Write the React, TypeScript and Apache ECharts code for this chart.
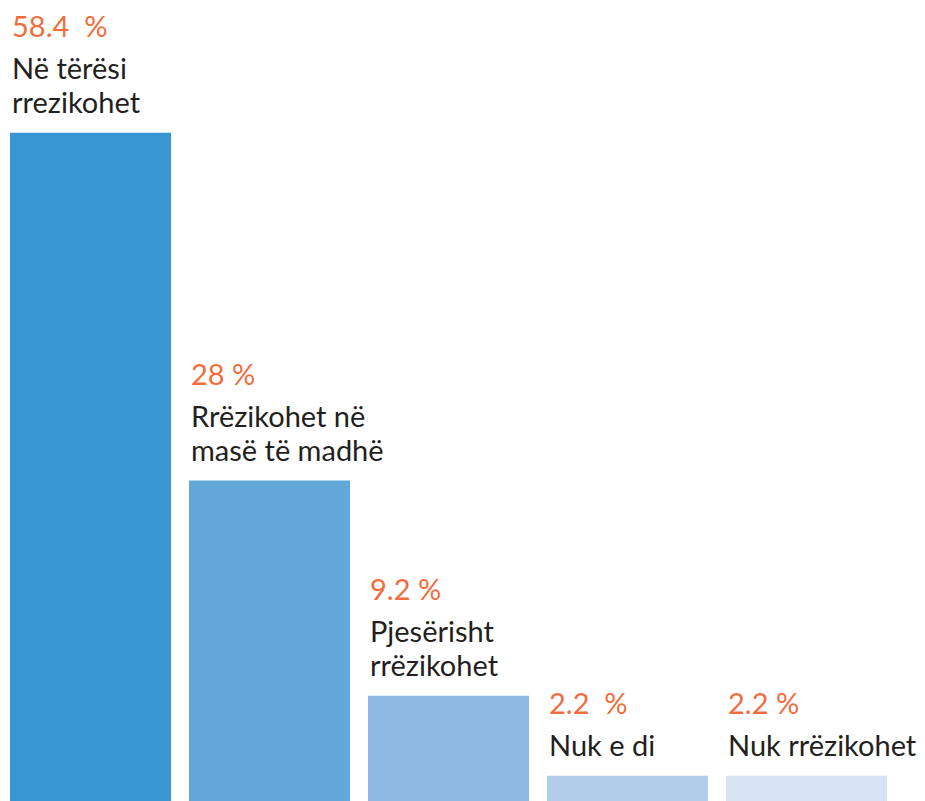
import React, { useEffect, useRef } from "react";
import * as echarts from "echarts";

const categories = ["Në tërësi\nrrezikohet", "Rrëzikohet në\nmasë të madhë", "Pjesërisht\nrrëzikohet", "Nuk e di", "Nuk rrëzikohet"];
const values = [58.4, 28, 9.2, 2.2, 2.2];
const valueLabels = ["58.4  %", "28 %", "9.2 %", "2.2  %", "2.2 %"];
const colors = ["#3897d3", "#64a7d9", "#8db8e2", "#b0cce9", "#d5e3f3"];

export default function App() {
  const ref = useRef<HTMLDivElement>(null);
  useEffect(() => {
    document.body.style.margin = "0";
    const chart = echarts.init(ref.current!, null, { renderer: "svg" });
    const data = values.map((v, i) => ({
      value: v,
      itemStyle: { color: colors[i] },
      label: {
        formatter: () =>
          `{p|${valueLabels[i]}}\n` +
          categories[i]
            .split("\n")
            .map((s) => `{n|${s}}`)
            .join("\n"),
      },
    }));
    chart.setOption({
      animation: false,
      grid: { left: 1, right: 29, top: 0, bottom: -3, containLabel: false },
      xAxis: {
        type: "category",
        data: categories,
        show: false,
      },
      yAxis: { type: "value", min: 0, max: 70, show: false },
      series: [
        {
          type: "bar",
          barWidth: 161,
          data,
          label: {
            show: true,
            position: [2, -14],
            align: "left",
            verticalAlign: "bottom",
            rich: {
              p: {
                fontFamily: "Lato",
                fontSize: 29,
                color: "#f26d3d",
                lineHeight: 50,
              },
              n: {
                fontFamily: "Lato",
                fontSize: 29,
                color: "#231f20",
                lineHeight: 34,
              },
            },
          },
        },
      ],
    });
    return () => chart.dispose();
  }, []);
  return <div ref={ref} style={{ width: 925, height: 801 }} />;
}
